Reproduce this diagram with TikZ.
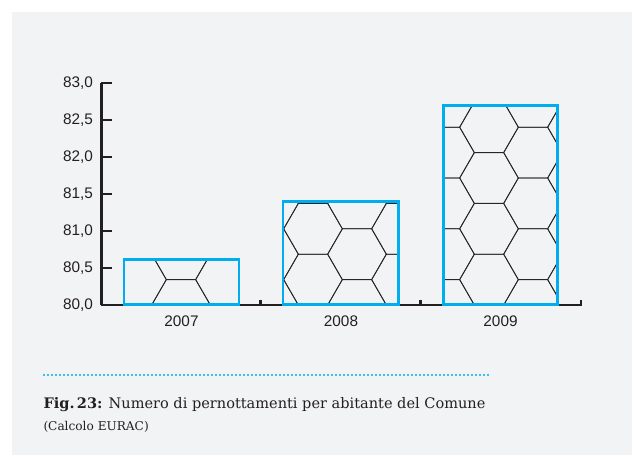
\documentclass[tikz,border=0pt]{standalone}
\usepackage{fontspec}
\setmainfont{DejaVu Serif}
\newfontfamily\axisfont{Liberation Sans}
\usetikzlibrary{calc}

\definecolor{panelgray}{RGB}{242,243,245}
\definecolor{barblue}{RGB}{0,174,239}
\definecolor{axisblack}{RGB}{35,31,32}

\tikzset{every picture/.style={line width=0.75pt}}
\tikzset{
  barframe/.style={draw=barblue, line width=1.9pt},
  hexline/.style={draw=black!85, line width=0.6pt},
  axisline/.style={draw=axisblack, line width=1.9pt},
  ticklabel/.style={font=\axisfont\fontsize{11.5}{13}\selectfont, text=axisblack, inner sep=0pt},
  captionmain/.style={font=\fontsize{10.9}{13}\selectfont, text=axisblack, inner sep=0pt, anchor=base west},
  captionsub/.style={font=\fontsize{9.1}{11}\selectfont, text=axisblack, inner sep=0pt, anchor=base west},
}

\begin{document}
\begin{tikzpicture}[x=0.75pt,y=0.75pt,yscale=-1,xscale=1]
\useasboundingbox (0,0) rectangle (632,455);

%Shape: Rectangle [background panel]
\fill [panelgray] (12,12) rectangle (632,455);

%Hexagon pattern, clipped to the three bars
\begin{scope}
\clip (124,304.5) rectangle (239,259.5) (283,304.5) rectangle (398.5,201.5) (443.5,304.5) rectangle (557.5,105.5);
\foreach \c in {0,...,10}{
  \pgfmathsetmacro\hx{137+44*\c}
  \pgfmathsetmacro\hy{ifthenelse(mod(\c,2)==0,279.6,305)}
  \foreach \r in {0,...,4}{
    \draw [hexline] (\hx,{\hy-50.8*\r}) ++(29.3,0) -- ++(120:29.3) -- ++(180:29.3) -- ++(240:29.3) -- ++(300:29.3) -- ++(0:29.3) -- cycle ;
  }
}
\end{scope}

%Straight Lines [y axis]
\draw [axisline] (101.3,83) -- (101.3,305) ;
%Straight Lines [y ticks]
\foreach \t/\ty in {830/83,825/120,820/157,815/194,810/231,805/268}{
  \draw [axisline] (101.3,\ty) -- (112,\ty) ;
}
%Straight Lines [x axis]
\draw [axisline] (101.3,305) -- (581,305) -- (581,299.5) ;
\draw [axisline] (260.7,305) -- (260.7,299.5) ;
\draw [axisline] (420.7,305) -- (420.7,299.5) ;

%Shape: Rectangle [2007]
\draw [barframe] (124,304.5) rectangle (239,259.5) ;
%Shape: Rectangle [2008]
\draw [barframe] (283,304.5) rectangle (398.5,201.5) ;
%Shape: Rectangle [2009]
\draw [barframe] (443.5,304.5) rectangle (557.5,105.5) ;

% Text Node
\node [ticklabel, anchor=east] (lbl830) at (93.5,83) {83,0};
\node [ticklabel, anchor=east] (lbl825) at (93.5,120) {82,5};
\node [ticklabel, anchor=east] (lbl820) at (93.5,157) {82,0};
\node [ticklabel, anchor=east] (lbl815) at (93.5,194) {81,5};
\node [ticklabel, anchor=east] (lbl810) at (93.5,231) {81,0};
\node [ticklabel, anchor=east] (lbl805) at (93.5,268) {80,5};
\node [ticklabel, anchor=east] (lbl800) at (93.5,305) {80,0};
% Text Node
\node [ticklabel] (yr2007) at (181.5,321.5) {2007};
\node [ticklabel] (yr2008) at (341,321.5) {2008};
\node [ticklabel] (yr2009) at (500.5,321.5) {2009};

%Straight Lines [dotted rule]
\draw [barblue, line width=1.7pt, line cap=round, dash pattern=on 0pt off 3pt] (44,375) -- (490,375) ;

% Text Node
\node [captionmain] (capmain) at (43,408) {\textbf{Fig.\,23:} Numero di pernottamenti per abitante del Comune};
\node [captionsub] (capsub) at (43,430) {(Calcolo EURAC)};
\end{tikzpicture}
\end{document}
